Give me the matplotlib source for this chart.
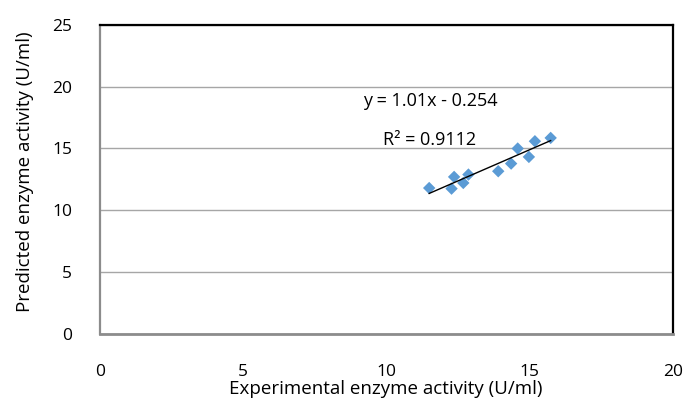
import matplotlib
matplotlib.use("Agg")
import matplotlib.pyplot as plt
import numpy as np

# Experimental vs predicted enzyme activity (U/ml)
experimental = [11.49, 12.27, 12.36, 12.68, 12.86, 13.90, 14.35, 14.58, 14.97, 15.18, 15.73]
predicted = [11.79, 11.74, 12.69, 12.20, 12.88, 13.15, 13.77, 14.99, 14.31, 15.58, 15.85]

# Linear trendline parameters
slope = 1.01
intercept = -0.254
r_squared = 0.9112

x_ticks = [0, 5, 10, 15, 20]
y_ticks = [0, 5, 10, 15, 20, 25]

plt.rcParams['font.family'] = ['Open Sans', 'DejaVu Sans']

W, H = 684, 403
fig = plt.figure(figsize=(W / 100, H / 100), dpi=100)
ax = fig.add_axes([100 / W, 1 - 333.5 / H, 573 / W, 308.5 / H])

ax.set_xlim(0, 20)
ax.set_ylim(0, 25)
ax.set_xticks(x_ticks)
ax.set_yticks(y_ticks)
ax.tick_params(axis='both', length=0, labelsize=12.5, colors='black')
ax.tick_params(axis='x', pad=22)
ax.tick_params(axis='y', pad=20)

ax.grid(axis='y', color='#a6a6a6', linewidth=1.0)
ax.set_axisbelow(True)

for side in ('top', 'right'):
    ax.spines[side].set_color('black')
    ax.spines[side].set_linewidth(1.6)
ax.spines['left'].set_color('#8c8c8c')
ax.spines['left'].set_linewidth(1.6)
ax.spines['bottom'].set_color('#8c8c8c')
ax.spines['bottom'].set_linewidth(2.0)

ax.scatter(experimental, predicted, marker='D', s=40, color='#5b9bd5',
           edgecolors='none', zorder=3)

xs = np.array([min(experimental), max(experimental)])
ax.plot(xs, slope * xs + intercept, color='black', linewidth=1.0, zorder=4)

ax.text(430 / W, 1 - 101 / H, f"y = {slope:.2f}x - {abs(intercept):.3f}",
        transform=fig.transFigure, fontsize=13, ha='center', va='center')
ax.text(430 / W, 1 - 140 / H, f"R² = {r_squared:.4f}",
        transform=fig.transFigure, fontsize=13, ha='center', va='center')

fig.text(386 / W, 1 - 389 / H, "Experimental enzyme activity (U/ml)",
         fontsize=13.5, ha='center', va='center')
fig.text(25 / W, 1 - 172 / H, "Predicted enzyme activity (U/ml)",
         fontsize=13.5, ha='center', va='center', rotation=90)

fig.savefig("out.png", dpi=100)
